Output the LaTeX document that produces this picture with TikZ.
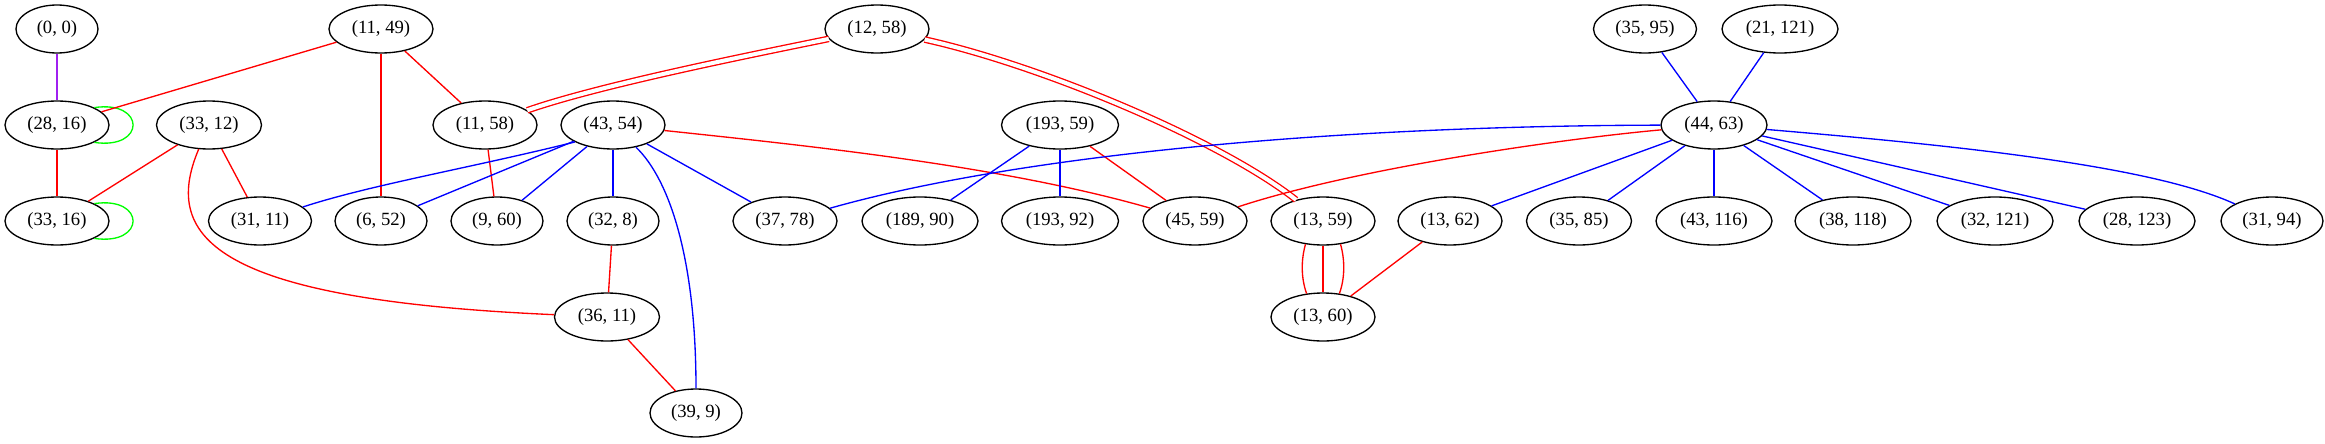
\documentclass[tikz,border=0pt]{standalone}
\usepackage{fontspec}
\setmainfont{Liberation Serif}
\usetikzlibrary{shapes.geometric}
\definecolor{gvpurple}{HTML}{A020F0}
\definecolor{gvred}{HTML}{FF0000}
\definecolor{gvblue}{HTML}{0000FF}
\definecolor{gvgreen}{HTML}{00FF00}
\begin{document}
\begin{tikzpicture}[x=0.75pt,y=-0.75pt,
  gv/.style={ellipse,draw=black,line width=1pt,inner sep=0pt,minimum height=36pt,font=\fontsize{14}{16}\selectfont},
  rl/.style={draw=gvred,line width=1pt},
  bl/.style={draw=gvblue,line width=1pt},
  gl/.style={draw=gvgreen,line width=1pt},
  pl/.style={draw=gvpurple,line width=1pt},
  dbl/.style={draw=gvred,double=white,double distance=3pt,line width=1pt}]
\useasboundingbox (0,0) rectangle (2325,443);
% row 1
\node[gv,minimum width=61.5pt] (n00) at (57,29) {(0, 0)};
\node[gv,minimum width=78pt] (n1149) at (381,29) {(11, 49)};
\node[gv,minimum width=78pt] (n1258) at (877,29) {(12, 58)};
\node[gv,minimum width=77.25pt] (n3595) at (1645,29) {(35, 95)};
\node[gv,minimum width=87pt] (n21121) at (1780,29) {(21, 121)};
% row 2
\node[gv,minimum width=78pt] (n2816) at (57,125) {(28, 16)};
\node[gv,minimum width=78.75pt] (n3312) at (209,125) {(33, 12)};
\node[gv,minimum width=78pt] (n1158) at (485,125) {(11, 58)};
\node[gv,minimum width=78pt] (n4354) at (613,125) {(43, 54)};
\node[gv,minimum width=87.75pt] (n19359) at (1060,125) {(193, 59)};
\node[gv,minimum width=79.5pt] (n4463) at (1714,125) {(44, 63)};
% row 3
\node[gv,minimum width=78pt] (n3316) at (57,221) {(33, 16)};
\node[gv,minimum width=77.25pt] (n3111) at (260,221) {(31, 11)};
\node[gv,minimum width=69pt] (n652) at (381,221) {(6, 52)};
\node[gv,minimum width=69pt] (n960) at (497,221) {(9, 60)};
\node[gv,minimum width=69pt] (n328) at (613,221) {(32, 8)};
\node[gv,minimum width=78pt] (n3778) at (785,221) {(37, 78)};
\node[gv,minimum width=87pt] (n18990) at (920,221) {(189, 90)};
\node[gv,minimum width=87.75pt] (n19392) at (1060,221) {(193, 92)};
\node[gv,minimum width=78pt] (n4559) at (1195,221) {(45, 59)};
\node[gv,minimum width=78pt] (n1359) at (1323,221) {(13, 59)};
\node[gv,minimum width=78pt] (n1362) at (1450,221) {(13, 62)};
\node[gv,minimum width=78.75pt] (n3585) at (1579,221) {(35, 85)};
\node[gv,minimum width=87pt] (n43116) at (1714,221) {(43, 116)};
\node[gv,minimum width=87pt] (n38118) at (1853,221) {(38, 118)};
\node[gv,minimum width=87pt] (n32121) at (1995,221) {(32, 121)};
\node[gv,minimum width=87pt] (n28123) at (2137,221) {(28, 123)};
\node[gv,minimum width=76.5pt] (n3194) at (2272,221) {(31, 94)};
% row 4/5
\node[gv,minimum width=78.75pt] (n3611) at (607,317) {(36, 11)};
\node[gv,minimum width=78pt] (n1360) at (1323,317) {(13, 60)};
\node[gv,minimum width=69pt] (n399) at (696,413) {(39, 9)};

% double edges
\draw[dbl] (n1258) .. controls (750,55) and (600,85) .. (n1158);
\draw[dbl] (n1258) .. controls (1040,65) and (1220,140) .. (n1359);

% edges
\draw[pl] (n00) -- (n2816);
\draw[gl] (n2816.25) .. controls (146,100) and (146,150) .. (n2816.-25);
\draw[gl] (n3316.25) .. controls (146,196) and (146,246) .. (n3316.-25);
\draw[rl] (n2816) -- (n3316);
\draw[rl] (n1149) -- (n2816);
\draw[rl] (n1149) -- (n652);
\draw[rl] (n1149) -- (n1158);
\draw[rl] (n3312) -- (n3316);
\draw[rl] (n3312) -- (n3111);
\draw[rl] (n3312) .. controls (160,240) and (220,300) .. (n3611);
\draw[rl] (n1158) -- (n960);
\draw[bl] (n4354.204) .. controls (470,168) and (370,185) .. (n3111);
\draw[bl] (n4354) -- (n652);
\draw[bl] (n4354) -- (n960);
\draw[bl] (n4354) -- (n328);
\draw[bl] (n4354) .. controls (670,180) and (696,260) .. (n399);
\draw[bl] (n4354) -- (n3778);
\draw[rl] (n4354) .. controls (800,145) and (1000,165) .. (n4559);
\draw[rl] (n328) -- (n3611);
\draw[rl] (n3611) -- (n399);
\draw[bl] (n19359) -- (n18990);
\draw[bl] (n19359) -- (n19392);
\draw[rl] (n19359) -- (n4559);
\draw[bl] (n4463) .. controls (1300,126) and (1000,160) .. (n3778);
\draw[rl] (n4463) .. controls (1550,140) and (1350,170) .. (n4559);
\draw[bl] (n4463) -- (n1362);
\draw[bl] (n4463) -- (n3585);
\draw[bl] (n4463) -- (n43116);
\draw[bl] (n4463) -- (n38118);
\draw[bl] (n4463) -- (n32121);
\draw[bl] (n4463) -- (n28123);
\draw[bl] (n4463) .. controls (1950,145) and (2150,165) .. (n3194);
\draw[bl] (n3595) -- (n4463);
\draw[bl] (n21121) -- (n4463);
\draw[rl] (n1359.233) .. controls (1301,260) and (1301,278) .. (n1360.125);
\draw[rl] (n1359) -- (n1360);
\draw[rl] (n1359.-53) .. controls (1345,260) and (1345,278) .. (n1360.55);
\draw[rl] (n1362) -- (n1360);
\end{tikzpicture}
\end{document}
